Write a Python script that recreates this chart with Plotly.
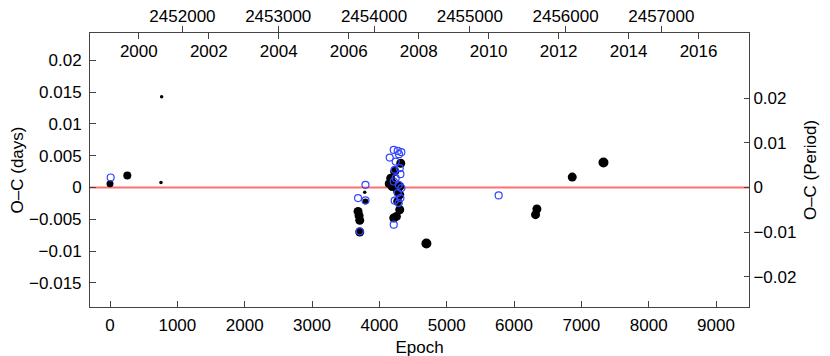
import plotly.graph_objects as go

period = 0.703          # days per epoch
jd_zero = 2451243.6     # JD of epoch 0

black_epoch = [0, 257, 3684, 3699, 3709, 3709, 3794, 4699, 6320, 6340, 6865, 7329,
               4318, 4228, 4169, 4140, 4169, 4199, 4190, 4254, 4303, 4273, 4303, 4273,
               4303, 4254, 4214]
black_oc = [0.00058, 0.00188, -0.00376, -0.00444, -0.00517, -0.00700, -0.00219, -0.00882,
            -0.00428, -0.00339, 0.00163, 0.00392,
            0.00382, 0.00251, 0.00147, 0.00058, 0.00105, 0.00069, 0.00016, 0.00000, 0.00016,
            -0.00063, -0.00114, -0.00219, -0.00350, -0.00455, -0.00480]
black_size = [7, 8, 9, 9, 9, 9, 6, 10, 9, 9, 9, 10,
              9, 9, 9, 8, 8, 9, 9, 9, 9, 9, 9, 9, 9, 9, 9]

blue_epoch = [10, 3794, 3684, 3794, 3709, 4214, 4273, 4327, 4292, 4154, 4243, 4228,
              4303, 4313, 4243, 4214, 4288, 4327, 4273, 4313, 4228, 4288, 4214, 5772]
blue_oc = [0.00157, 0.00042, -0.00166, -0.00204, -0.00690, 0.00591, 0.00575, 0.00555,
           0.00524, 0.00470, 0.00408, 0.00277, 0.00304, 0.00210, 0.00147, 0.00094,
           0.00042, -0.00009, -0.00088, -0.00166, -0.00208, -0.00245, -0.00585, -0.00125]

dot_epoch = [767, 757, 3783]
dot_oc = [0.01426, 0.00078, -0.00075]

period_ticks = [-0.02, -0.01, 0, 0.01, 0.02]

x_range = [-297, 9490]
y_range = [-0.0188, 0.0243]
jd_range = [jd_zero + period * e for e in x_range]
year_range = [2000 + (j - 2451544.5) / 365.25 for j in jd_range]

font = dict(family="Liberation Sans, Arial, sans-serif", size=17, color="black")
line_col = "#444444"

fig = go.Figure()
fig.add_trace(go.Scatter(x=black_epoch, y=black_oc, mode="markers",
                         marker=dict(color="black", size=black_size, opacity=1,
                                     line=dict(width=0)),
                         showlegend=False))
fig.add_trace(go.Scatter(x=dot_epoch, y=dot_oc, mode="markers",
                         marker=dict(color="black", size=3.5, opacity=1), showlegend=False))
fig.add_trace(go.Scatter(x=blue_epoch, y=blue_oc, mode="markers",
                         marker=dict(symbol="circle-open", color="#3346ff", size=7,
                                     opacity=1, line=dict(width=1.2)),
                         showlegend=False))
# empty traces so the extra axes get drawn
fig.add_trace(go.Scatter(x=[], y=[], xaxis="x2", yaxis="y", showlegend=False))
fig.add_trace(go.Scatter(x=[], y=[], xaxis="x3", yaxis="y", showlegend=False))
fig.add_trace(go.Scatter(x=[], y=[], xaxis="x", yaxis="y2", showlegend=False))

fig.add_shape(type="line", xref="paper", x0=0, x1=1, yref="y", y0=0, y1=0,
              line=dict(color="#ff7070", width=2), layer="below")

common = dict(showgrid=False, zeroline=False, showline=True, linecolor=line_col,
              linewidth=1, tickcolor=line_col, tickfont=font, automargin=False,
              ticklabeloverflow="allow")

# page body has an 8px margin, so the margins are shifted to compensate
fig.update_layout(
    width=830, height=356,
    margin=dict(l=82, r=89, t=25, b=57),
    paper_bgcolor="white", plot_bgcolor="white",
    font=font,
    xaxis=dict(range=x_range, ticks="inside", ticklen=6, tick0=0, dtick=1000,
               ticklabelstandoff=3,
               title=dict(text="Epoch", font=font, standoff=6), **common),
    xaxis2=dict(range=jd_range, overlaying="x", side="top", anchor="y",
                ticks="outside", ticklen=6, tick0=2452000, dtick=1000, tickformat="d",
                ticklabelstandoff=-3, **common),
    xaxis3=dict(range=year_range, overlaying="x", side="top", anchor="y",
                ticks="inside", ticklen=6, ticklabelposition="inside",
                ticklabelstandoff=7, ticklabeloverflow="allow",
                tick0=2000, dtick=2, tickformat="d", automargin=False,
                showgrid=False, zeroline=False, showline=False,
                tickcolor=line_col, tickfont=font),
    yaxis=dict(range=y_range, ticks="inside", ticklen=6, tick0=0, dtick=0.005,
               ticklabelstandoff=4,
               title=dict(text="O–C (days)", font=font, standoff=10), **common),
    yaxis2=dict(range=[v / period for v in y_range], overlaying="y", side="right",
                anchor="x", ticks="inside", ticklen=5, tickvals=period_ticks,
                title=dict(text="O–C (Period)", font=font, standoff=8), **common),
)

fig.write_html("out.html")
